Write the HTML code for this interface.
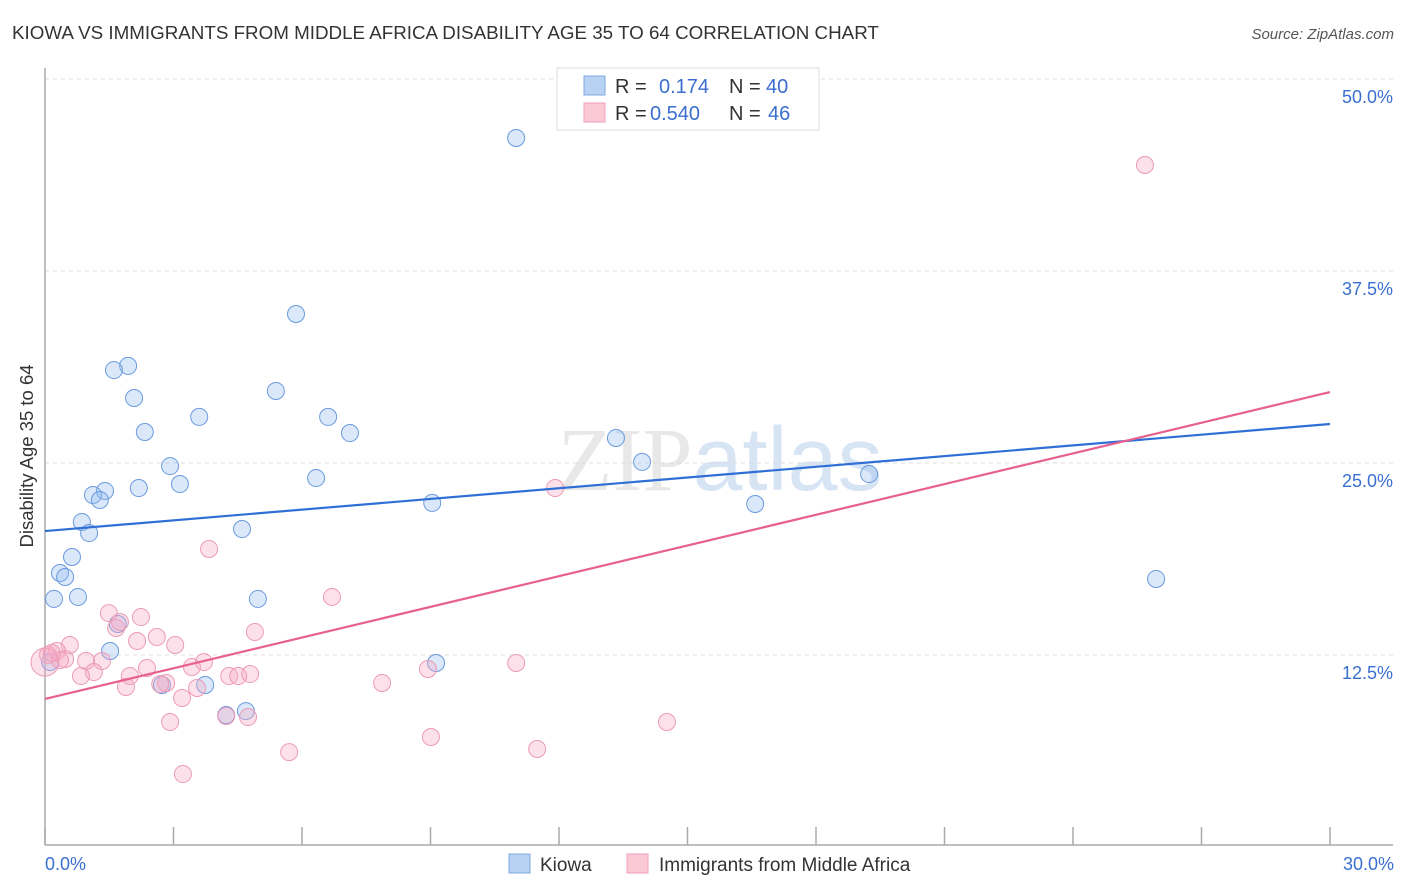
<!DOCTYPE html>
<html><head><meta charset="utf-8"><style>
body{margin:0;background:#fff;font-family:"Liberation Sans",sans-serif}
</style></head><body>
<svg id="chart" width="1406" height="892" xmlns="http://www.w3.org/2000/svg" style="display:block">
<text x="12" y="39" font-size="18.8" fill="#333">KIOWA VS IMMIGRANTS FROM MIDDLE AFRICA DISABILITY AGE 35 TO 64 CORRELATION CHART</text>
<text x="1394" y="39" font-size="15" font-style="italic" fill="#555" text-anchor="end">Source: ZipAtlas.com</text>
<text x="720" y="490" font-size="90" fill="#e8e8e8" text-anchor="middle" font-family="Liberation Serif">ZIP<tspan fill="#d6e4f4" font-family="Liberation Sans">atlas</tspan></text>
<g id="grid"></g><g id="axes"></g><g id="marks"></g>
<text transform="translate(33,456) rotate(-90)" font-size="18.5" fill="#333" text-anchor="middle">Disability Age 35 to 64</text>
<g>
<rect x="557" y="68" width="262" height="62" fill="#fff" stroke="#ddd"/>
<rect x="584" y="76" width="21" height="19" fill="#b8d2f4" stroke="#7ea8e0"/>
<rect x="584" y="103" width="21" height="19" fill="#fbc8d6" stroke="#ef9fb8"/>
<text x="615" y="93" font-size="20" fill="#333">R = <tspan fill="#3a6fd0" x="659">0.174</tspan><tspan x="729" fill="#333">N = </tspan><tspan fill="#3a6fd0" x="766">40</tspan></text>
<text x="615" y="120" font-size="20" fill="#333">R = <tspan fill="#3a6fd0" x="650">0.540</tspan><tspan x="729" fill="#333">N = </tspan><tspan fill="#3a6fd0" x="768">46</tspan></text>
</g>
<g>
<rect x="509" y="854" width="21" height="19" fill="#b8d2f4" stroke="#7ea8e0"/>
<text x="540" y="871" font-size="19" fill="#333">Kiowa</text>
<rect x="627" y="854" width="21" height="19" fill="#fbc8d6" stroke="#ef9fb8"/>
<text x="659" y="871" font-size="19" fill="#333">Immigrants from Middle Africa</text>
</g>
</svg>
<script>
const yTicks=[12.5,25,37.5,50];
const yTickLabels=["12.5%","25.0%","37.5%","50.0%"];
const xTicks=[0,3,6,9,12,15,18,21,24,27,30];
const kiowaX=[11.00,5.86,1.94,1.61,2.08,5.39,3.60,6.61,2.33,7.12,13.33,2.92,13.94,6.33,3.15,2.19,1.40,1.12,1.28,9.04,16.58,19.24,0.86,1.03,4.60,0.63,0.35,0.47,0.21,0.77,4.97,25.94,1.70,1.52,0.12,9.13,2.73,3.74,4.23,4.69];
const kiowaY=[46.16,34.70,31.32,31.05,29.23,29.69,28.0,28.0,27.02,26.95,26.63,24.80,25.07,24.02,23.63,23.37,23.18,22.92,22.59,22.40,22.33,24.28,21.16,20.44,20.70,18.88,17.84,17.58,16.15,16.28,16.15,17.45,14.52,12.76,12.04,11.98,10.55,10.55,8.59,8.85];
const immX=[25.68,11.91,3.83,6.70,1.49,2.24,4.90,1.66,2.61,2.15,0.58,3.04,0.28,0.07,0.47,0.96,1.33,3.71,3.43,2.38,1.14,0.84,1.98,4.30,4.51,4.79,11.00,8.94,2.83,3.55,7.87,1.89,3.20,2.92,4.74,14.52,9.01,11.49,5.70,3.22,0.0,0.35,0.16,1.75,2.69,4.23];
const immY=[44.40,23.37,19.40,16.28,15.23,14.97,14.00,14.26,13.67,13.41,13.15,13.15,12.76,12.50,12.24,12.11,12.11,12.04,11.72,11.65,11.39,11.13,11.13,11.13,11.13,11.26,11.98,11.59,10.68,10.35,10.68,10.42,9.70,8.14,8.46,8.14,7.16,6.38,6.18,4.75,12.04,12.17,12.63,14.65,10.61,8.53];
const kiowaTrend=[20.57,27.54];
const immTrend=[9.64,29.62];
const NS="http://www.w3.org/2000/svg";
const X=v=>45+v*1285/30, Y=v=>847-v*15.36;
function mk(tag,attrs,parent){const e=document.createElementNS(NS,tag);for(const k in attrs)e.setAttribute(k,attrs[k]);document.getElementById(parent).appendChild(e);return e;}
yTicks.forEach((t,i)=>{
 const l=mk('line',{x1:45,x2:1393,y1:Y(t),y2:Y(t),stroke:'#ddd','stroke-dasharray':'4,4'},'grid');
 
 
 const tx=mk('text',{x:1393,y:Y(t)+24,'font-size':18,fill:'#3a6fd0','text-anchor':'end'},'grid');
 tx.textContent=yTickLabels[i];
 
 
});
const ax1=mk('line',{x1:45,x2:45,y1:68,y2:845,stroke:'#aaa','stroke-width':1.5},'axes');


const ax2=mk('line',{x1:45,x2:1393,y1:845,y2:845,stroke:'#aaa','stroke-width':1.5},'axes');


xTicks.forEach(t=>{
 const l=mk('line',{x1:X(t),x2:X(t),y1:827,y2:845,stroke:'#aaa','stroke-width':1.5},'axes');
 
 
});
[[0,'0.0%',45,'start'],[30,'30.0%',1394,'end']].forEach(a=>{
 const tx=mk('text',{x:a[2],y:870,'font-size':18,fill:'#3a6fd0','text-anchor':a[3]},'axes');
 tx.textContent=a[1];
 
 
});
kiowaX.forEach((v,i)=>{
 const c=mk('circle',{cx:X(v),cy:Y(kiowaY[i]),r:8.5,fill:'rgba(150,190,240,0.35)',stroke:'#6a9ade','stroke-width':1},'marks');
 
 
});
immX.forEach((v,i)=>{
 const c=mk('circle',{cx:X(v),cy:Y(immY[i]),r:i==40?14:8.5,fill:'rgba(245,170,195,0.35)',stroke:'#ec9bb7','stroke-width':1},'marks');
 
 
});
const t1=mk('line',{x1:X(0),y1:Y(kiowaTrend[0]),x2:X(30),y2:Y(kiowaTrend[1]),stroke:'#2f6fd6','stroke-width':2.2},'marks');


const t2=mk('line',{x1:X(0),y1:Y(immTrend[0]),x2:X(30),y2:Y(immTrend[1]),stroke:'#e8608e','stroke-width':2.2},'marks');


</script>
</body></html>
